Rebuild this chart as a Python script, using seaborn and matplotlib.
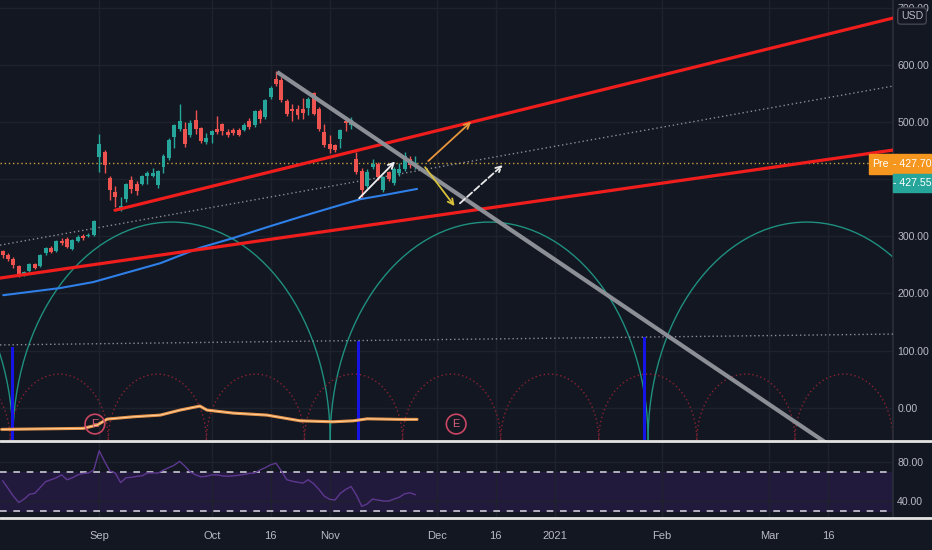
import numpy as np
import matplotlib.pyplot as plt
import matplotlib.patches as mpatches
from matplotlib.lines import Line2D
import seaborn as sns

# daily candles, one per trading day (index 0 = Aug 6 2020, 77 = Nov 24 2020)
opens = [274, 268, 261, 248, 232, 239, 252, 248, 270, 279, 274, 292, 295, 278, 292, 300, 300, 303,
         439, 447, 402, 378, 350, 366, 399, 391, 392, 406, 406, 389, 421, 437, 474, 488, 488, 477,
         503, 489, 465, 477, 488, 496, 482, 486, 486, 486, 502, 494, 519, 508, 543, 575, 574, 537,
         523, 523, 522, 524, 551, 523, 483, 462, 459, 471, 502, 494, 435, 414, 388, 421, 427, 381,
         412, 394, 410, 418, 435, 423]
highs = [276, 270, 263, 250, 240, 253, 254, 269, 281, 283, 294, 297, 298, 296, 302, 304, 306, 329,
         479, 451, 405, 388, 368, 394, 405, 397, 408, 414, 419, 416, 444, 472, 497, 532, 500, 503,
         521, 492, 480, 486, 510, 499, 487, 489, 489, 498, 507, 521, 523, 541, 563, 589, 578, 541,
         532, 529, 542, 543, 553, 527, 497, 477, 462, 488, 505, 508, 448, 420, 417, 436, 430, 406,
         415, 421, 428, 447, 440, 440]
lows = [262, 256, 244, 228, 230, 237, 243, 246, 268, 270, 272, 284, 279, 276, 290, 293, 298, 301,
        412, 410, 364, 351, 345, 360, 376, 372, 389, 391, 403, 385, 410, 433, 455, 484, 456, 474,
        479, 463, 461, 464, 479, 478, 473, 478, 476, 484, 488, 492, 499, 506, 540, 563, 535, 511,
        502, 506, 506, 512, 512, 485, 457, 445, 447, 454, 485, 488, 409, 368, 385, 418, 398, 377,
        397, 390, 406, 414, 420, 418]
closes = [267, 260, 250, 232, 238, 251, 245, 267, 279, 273, 292, 289, 282, 293, 299, 297, 303, 326,
          461, 424, 381, 369, 353, 391, 383, 380, 405, 411, 410, 414, 441, 469, 494, 502, 462, 499,
          487, 466, 472, 485, 482, 485, 477, 481, 477, 495, 491, 519, 506, 538, 560, 566, 538, 514,
          519, 512, 516, 540, 514, 488, 459, 452, 451, 486, 498, 503, 413, 381, 413, 426, 403, 403,
          401, 418, 418, 441, 424, 428]

rsi = [61, 53, 45, 38.5, 42, 47, 48, 54, 60, 62, 64, 67, 62, 64, 67, 68.5, 69, 72, 92, 81, 71, 69,
       59, 64, 64.5, 65.5, 66, 69, 69, 69, 72, 74.5, 77, 81, 76, 70, 67, 65, 65.6, 67, 67, 66, 65.6,
       66, 66.6, 67.5, 68.5, 69, 72, 74.5, 77.5, 79, 71, 62, 60.5, 59.5, 58.5, 62, 58, 52, 45, 41.8,
       41, 48, 52, 55, 46, 34.5, 37, 42, 41, 40, 40, 42, 44, 47.5, 48.5, 46.5]

# moving average (blue) and volume average (orange), read at a few bars
ma_idx = [0.1, 10.7, 16.9, 29.4, 36.8, 43, 49.3, 55.5, 61.6, 66.7, 71, 77.3]
ma_val = [197, 209.5, 220, 253, 280, 297, 316, 334, 351, 365, 372, 383]
vol_idx = [-0.2, 15, 17.6, 19.5, 24.3, 29.4, 33.1, 36.8, 38.1, 43, 49.3, 55.5, 61.6, 65.4, 68,
           74.1, 77.3]
vol_val = [-37.8, -36, -30.3, -19.8, -15.8, -12.8, -4, 3, -4, -9.3, -12.8, -22.8, -24.5, -22.8,
           -19.3, -20.3, -20.3]

# hand-drawn lines: (bar, price) start and end
upper_trend = [(20.95, 345.7), (166.1, 682)]
lower_trend = [(-0.5, 227), (166.1, 451)]
down_trend = [(51.2, 587.6), (156, -76.5)]
mid_dotted = [(-0.5, 284.6), (166.1, 563)]
low_dotted = [(-0.5, 110), (166.1, 129)]
pre_price = 427.70
last_price = 427.55

# cycle arcs: cusp positions (bars) and peak heights
arc_base = -57
green_cusps = [-57.3, 1.9, 61.1, 120.4, 179.6]
green_peak = 325
red_cusps = [-16.9, 1.4, 19.7, 38.0, 56.3, 74.6, 92.9, 111.2, 129.5, 147.8, 166.1, 184.4]
red_peak = 59
blue_idx = [1.9, 66.3, 119.8]
blue_top = [106, 117, 124]
earn_idx = [17.2, 84.6]
earn_val = -28.5

# arrows: start, end
white_arrow = [(66.5, 366.7), (73.2, 430.9)]
orange_arrow = [(79.4, 431.8), (87.4, 500.6)]
yellow_arrow = [(78.8, 421), (84.3, 353)]
dashed_arrow = [(85.3, 357.8), (93.3, 424.8)]

tick_pos = [18, 39, 50, 61, 81, 92, 103, 123, 143, 154]
tick_labels = ["Sep", "Oct", "16", "Nov", "Dec", "16", "2021", "Feb", "Mar", "16"]
price_ticks = [0, 100, 200, 300, 400, 500, 600, 700]

BG = "#131722"
TXT = "#b8bbc4"
GRID = "#1e222d"
FS = 7.6

sns.set_theme(style="dark", rc={"axes.facecolor": BG, "figure.facecolor": BG,
                                "axes.edgecolor": BG, "grid.color": GRID,
                                "text.color": TXT, "xtick.color": TXT, "ytick.color": TXT})
plt.rcParams["font.family"] = ["Liberation Sans", "DejaVu Sans"]

fig = plt.figure(figsize=(9.32, 5.5), dpi=100)
ax = fig.add_axes([0, 0.198, 0.9582, 0.802])
ax_rsi = fig.add_axes([0, 0.06, 0.9582, 0.1364], sharex=ax)

for a in (ax, ax_rsi):
    a.set_xlim(-0.5, 166.1)
    a.grid(True, color=GRID, lw=1)
    a.set_axisbelow(True)
    a.yaxis.tick_right()
    a.tick_params(axis="y", length=0, pad=3, labelsize=FS, colors=TXT)
    for s in a.spines.values():
        s.set_visible(False)
    a.spines["right"].set_visible(True)
    a.spines["right"].set_color("#2a2e39")

ax.set_ylim(-58.3, 713.6)
ax.set_yticks(price_ticks)
# the 400 label sits under the price boxes
ax.set_yticklabels(["" if v == 400 else f"{v:.2f}" for v in price_ticks])
ax.set_xticks(tick_pos)
ax.tick_params(axis="x", labelbottom=False, length=0)

# cycle arcs
for a0, a1 in zip(green_cusps[:-1], green_cusps[1:]):
    ax.add_patch(mpatches.Arc(((a0 + a1) / 2, arc_base), a1 - a0, 2 * (green_peak - arc_base),
                              theta1=0, theta2=180, color="#1f8f7f", lw=1, zorder=2))
for a0, a1 in zip(red_cusps[:-1], red_cusps[1:]):
    ax.add_patch(mpatches.Arc(((a0 + a1) / 2, arc_base), a1 - a0, 2 * (red_peak - arc_base),
                              theta1=0, theta2=180, color="#8a2232", lw=1, ls=(0, (1, 2)), zorder=2))
ax.bar(blue_idx, np.array(blue_top) - arc_base, bottom=arc_base, width=0.55,
       color="#1414e6", edgecolor="none", linewidth=0, zorder=3)

# volume average
sns.lineplot(x=vol_idx, y=vol_val, ax=ax, color="#e8944a", lw=2.2, zorder=4)
sns.lineplot(x=vol_idx, y=vol_val, ax=ax, color="#ffd9a8", lw=0.6, zorder=4)
ax.scatter(earn_idx, [earn_val] * len(earn_idx), s=200, facecolors="none",
           edgecolors="#c94663", lw=1.2, zorder=5)
for e in earn_idx:
    ax.text(e, earn_val, "E", color="#d9607a", fontsize=8, ha="center", va="center", zorder=5)

# drawn lines
def seg(points, **kw):
    (x0, y0), (x1, y1) = points
    ax.plot([x0, x1], [y0, y1], **kw)

seg(mid_dotted, color="#8a8c96", lw=1, ls=(0, (1, 2)), zorder=3)
seg(low_dotted, color="#8a8c96", lw=1, ls=(0, (1, 2)), zorder=3)
ax.axhline(pre_price, color="#c8a040", lw=1, ls=(0, (1, 2)), zorder=3)
sns.lineplot(x=ma_idx, y=ma_val, ax=ax, color="#2f7fe8", lw=1.5, zorder=4)

# candles
o, h, l, c = map(np.array, (opens, highs, lows, closes))
idx = np.arange(len(o))
cols = np.where(c >= o, "#26a69a", "#ef5350")
ax.vlines(idx, l, h, colors=cols, lw=1, zorder=5)
ax.bar(idx, np.maximum(np.abs(c - o), 1.5), bottom=np.minimum(o, c), width=0.74,
       color=cols, edgecolor="none", linewidth=0, zorder=6)

seg(upper_trend, color="#f01d1d", lw=2.3, zorder=7)
seg(lower_trend, color="#f01d1d", lw=2.3, zorder=7)
seg(down_trend, color="#8d8f96", lw=3, zorder=7, solid_capstyle="butt")

for pts, col, ls in [(white_arrow, "#f0f0f0", "-"), (orange_arrow, "#e8963c", "-"),
                     (yellow_arrow, "#d8c23a", "-"), (dashed_arrow, "#e8e8e8", "--")]:
    ax.annotate("", xy=pts[1], xytext=pts[0], zorder=8,
                arrowprops=dict(arrowstyle="->", color=col, lw=1.3, ls=ls, mutation_scale=10,
                                shrinkA=0, shrinkB=0))

# RSI pane
ax_rsi.set_ylim(23.5, 101)
ax_rsi.axhspan(30, 70, color="#221a3c", zorder=0)
ax_rsi.axhline(70, color="#c9c9d3", lw=1.2, ls=(0, (4, 4)), zorder=2)
ax_rsi.axhline(30, color="#c9c9d3", lw=1.2, ls=(0, (4, 4)), zorder=2)
sns.lineplot(x=idx, y=rsi, ax=ax_rsi, color="#5e3890", lw=1, zorder=3)
ax_rsi.set_yticks([40, 80])
ax_rsi.set_yticklabels(["40.00", "80.00"])
ax_rsi.set_xticks(tick_pos)
ax_rsi.set_xticklabels(tick_labels)
ax_rsi.tick_params(axis="x", length=0, pad=10, labelsize=FS + 0.4, colors=TXT)
ax_rsi.set_xlabel("")
ax_rsi.set_ylabel("")
ax.set_xlabel("")
ax.set_ylabel("")

# pane separators
for yp in (441, 517.5):
    fig.add_artist(Line2D([0, 1], [1 - yp / 550] * 2, transform=fig.transFigure,
                          color="#e4e4e4", lw=2))

# price labels on the scale
W, H = 932, 550
fig.patches.append(mpatches.Rectangle((869 / W, 1 - 174 / H), 63 / W, 20 / H,
                                      transform=fig.transFigure, color="#f5961f", zorder=10))
fig.patches.append(mpatches.Rectangle((893 / W, 1 - 192 / H), 39 / W, 17.5 / H,
                                      transform=fig.transFigure, color="#26a69a", zorder=10))
fig.text(880 / W, 1 - 164 / H, "Pre", color="white", fontsize=FS, ha="center", va="center", zorder=11)
fig.text(893 / W, 1 - 164 / H, f"- {pre_price:.2f}", color="white", fontsize=FS, ha="left",
         va="center", zorder=11)
fig.text(893 / W, 1 - 183.5 / H, f"- {last_price:.2f}", color="white", fontsize=FS, ha="left",
         va="center", zorder=11)
fig.text(912 / W, 1 - 16 / H, "USD", color=TXT, fontsize=FS, ha="center", va="center", zorder=11,
         bbox=dict(boxstyle="round,pad=0.3", fc=BG, ec="#434651", lw=1))

fig.savefig("out.png", dpi=100, facecolor=BG)
